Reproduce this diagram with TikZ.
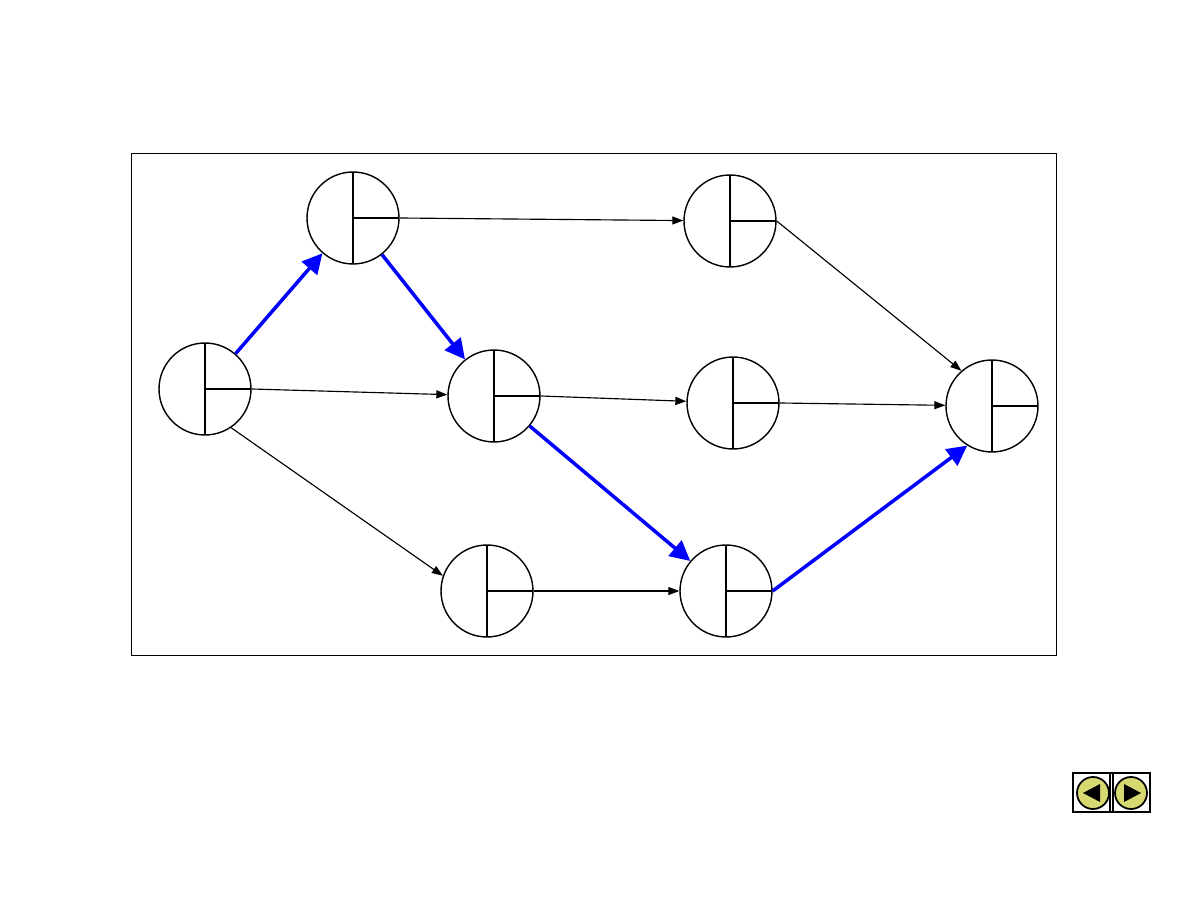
\documentclass[tikz,border=0pt]{standalone}
\usepackage{tikz}
\usetikzlibrary{arrows.meta, positioning}

\begin{document}
\begin{tikzpicture}[
  x=0.02cm, y=-0.02cm,
  event/.style={draw, circle, line width=0.8pt, minimum size=1.84cm, inner sep=0pt, fill=white,
    path picture={
      \draw[line width=0.7pt] (path picture bounding box.north) -- (path picture bounding box.south);
      \draw[line width=0.8pt] (path picture bounding box.center) -- (path picture bounding box.east);
    }},
  arrow/.style={-{Triangle[length=2.2mm, width=1.6mm]}, line width=0.65pt, black},
  crit/.style={-{Triangle[length=4mm, width=4mm]}, line width=2pt, blue},
  navbtn/.style={draw, circle, line width=1pt, minimum size=0.64cm, inner sep=0pt, fill={rgb,255:red,216;green,216;blue,112}}
]
\useasboundingbox (0,0) rectangle (1188,918);
\draw[line width=0.4pt] (131,153) rectangle (1056,655);

\node[event] (s) at (205,389) {};
\node[event] (b) at (353,218) {};
\node[event] (c) at (730,221) {};
\node[event] (d) at (494,396) {};
\node[event] (e) at (733,403) {};
\node[event] (f) at (992,406) {};
\node[event] (g) at (487,591) {};
\node[event] (h) at (726,591) {};

% critical path
\draw[crit] (s) -- (b);
\draw[crit] (b) -- (d);
\draw[crit] (d) -- (h);
\draw[crit] (h.east) -- (f.238);

% other activities
\draw[arrow] (b.east) -- (c);
\draw[arrow] (s.east) -- (d);
\draw[arrow] (s.-56) -- (g.161);
\draw[arrow] (d.east) -- (e);
\draw[arrow] (e.east) -- (f);
\draw[arrow] (c.east) -- (f.131);
\draw[arrow] (g.east) -- (h);

% navigation buttons
\draw[line width=1pt] (1073,773) rectangle (1150,812);
\draw[line width=0.6pt] (1110,773) -- (1110,812);
\draw[line width=0.6pt] (1113,773) -- (1113,812);
\node[navbtn] (prev) at (1093,793) {};
\node[navbtn] (next) at (1131,793) {};
\fill (1083,793) -- (1100,784) -- (1100,802) -- cycle;
\fill (1141,793) -- (1124,784) -- (1124,802) -- cycle;
\end{tikzpicture}
\end{document}
